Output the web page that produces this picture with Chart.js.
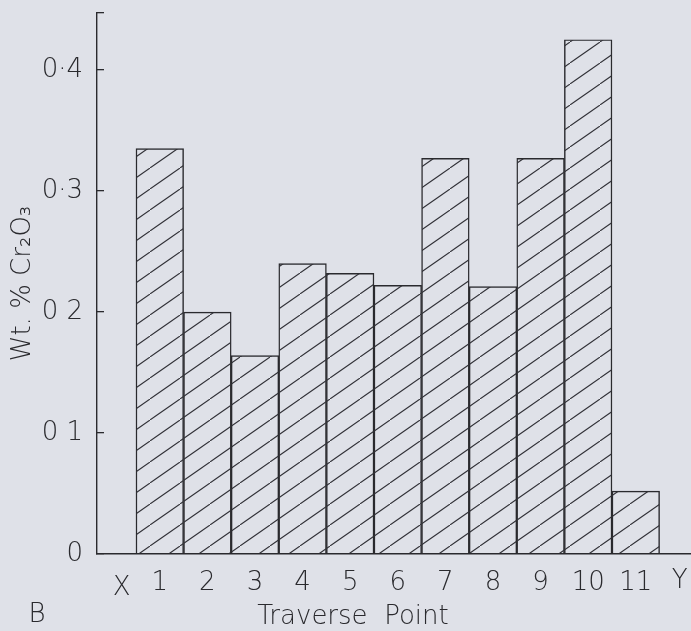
<!DOCTYPE html>
<html>
<head>
<meta charset="utf-8">
<script src="https://cdn.jsdelivr.net/npm/chart.js@4"></script>
<style>
  html, body { margin: 0; padding: 0; background: #dfe1e8; }
  canvas { display: block; }
</style>
</head>
<body>
<canvas id="chart" width="691" height="631"></canvas>
<script>
// ── Data ──
const traversePoints = [1, 2, 3, 4, 5, 6, 7, 8, 9, 10, 11];
const cr2o3Values    = [0.335, 0.200, 0.164, 0.240, 0.232, 0.222, 0.327, 0.221, 0.327, 0.425, 0.052];
const yTickValues    = [0, 0.1, 0.2, 0.3, 0.4, 0.447];
const yTickLabels    = ['0', '0 1', '0 2', '0·3', '0·4', ''];
const endLabels      = ['X', 'Y'];
const endPositions   = [0.2, 11.92];

const INK  = '#2a2a2e';
const FONT = { family: "'DejaVu Sans', sans-serif", size: 26, weight: 200, lineHeight: 0.9 };

// diagonal hatch fill for the bars
function makeHatch(ctx) {
  const w = 30, h = 21;
  const tile = document.createElement('canvas');
  tile.width = w; tile.height = h;
  const g = tile.getContext('2d');
  g.strokeStyle = '#303036';
  g.lineWidth = 1.1;
  g.beginPath();
  g.moveTo(-w, 2 * h);
  g.lineTo(2 * w, -h);
  g.stroke();
  return ctx.createPattern(tile, 'repeat');
}

// loose labels: X / Y ends, panel letter, axis title
const extraText = {
  id: 'extraText',
  afterDraw(chart) {
    const { ctx, scales: { x } } = chart;
    ctx.save();
    ctx.fillStyle = INK;
    ctx.font = `${FONT.weight} ${FONT.size}px ${FONT.family}`;
    ctx.textAlign = 'center';
    ctx.textBaseline = 'middle';
    ctx.fillText(endLabels[0], x.getPixelForValue(endPositions[0]), 588);
    ctx.fillText(endLabels[1], x.getPixelForValue(endPositions[1]), 581);
    ctx.fillText('B', 37, 615);
    ctx.fillText('Traverse  Point', 353, 617);
    ctx.restore();
  },
};

const canvas = document.getElementById('chart');
const ctx = canvas.getContext('2d');

new Chart(ctx, {
  type: 'bar',
  data: {
    datasets: [{
      data: traversePoints.map((p, i) => ({ x: p, y: cr2o3Values[i] })),
      backgroundColor: makeHatch(ctx),
      borderColor: INK,
      borderWidth: 0.8,
      borderSkipped: 'start',
      categoryPercentage: 1,
      barPercentage: 1,
    }],
  },
  options: {
    responsive: false,
    animation: false,
    layout: { padding: { top: 13, left: 0, right: 0, bottom: 0 } },
    plugins: { legend: { display: false }, tooltip: { enabled: false } },
    scales: {
      x: {
        type: 'linear',
        min: -0.319,
        max: 12.16,
        offset: false,
        afterFit(s) { s.height = 77; s.paddingLeft = 0; s.paddingRight = 0; },
        afterBuildTicks(s) { s.ticks = traversePoints.map((v) => ({ value: v })); },
        grid: { display: false, offset: false },
        border: { display: true, color: INK, width: 1.4 },
        ticks: { font: FONT, color: INK, padding: 10, maxRotation: 0, autoSkip: false, callback: (v) => String(v) },
      },
      y: {
        min: 0,
        max: 0.4471,
        afterFit(s) { s.width = 97; s.paddingTop = 0; s.paddingBottom = 0; },
        afterBuildTicks(s) { s.ticks = yTickValues.map((v) => ({ value: v })); },
        grid: { drawOnChartArea: false, drawTicks: true, tickLength: -7, color: INK, lineWidth: 1.3 },
        border: { display: true, color: INK, width: 1.4 },
        ticks: { font: FONT, color: INK, padding: 21, callback: (v, i) => yTickLabels[i] },
        title: {
          display: true,
          text: 'Wt. % Cr₂O₃',
          color: INK,
          font: { ...FONT, lineHeight: 1 },
          padding: { top: 10, bottom: 0 },
        },
      },
    },
  },
  plugins: [extraText],
});
</script>
</body>
</html>
